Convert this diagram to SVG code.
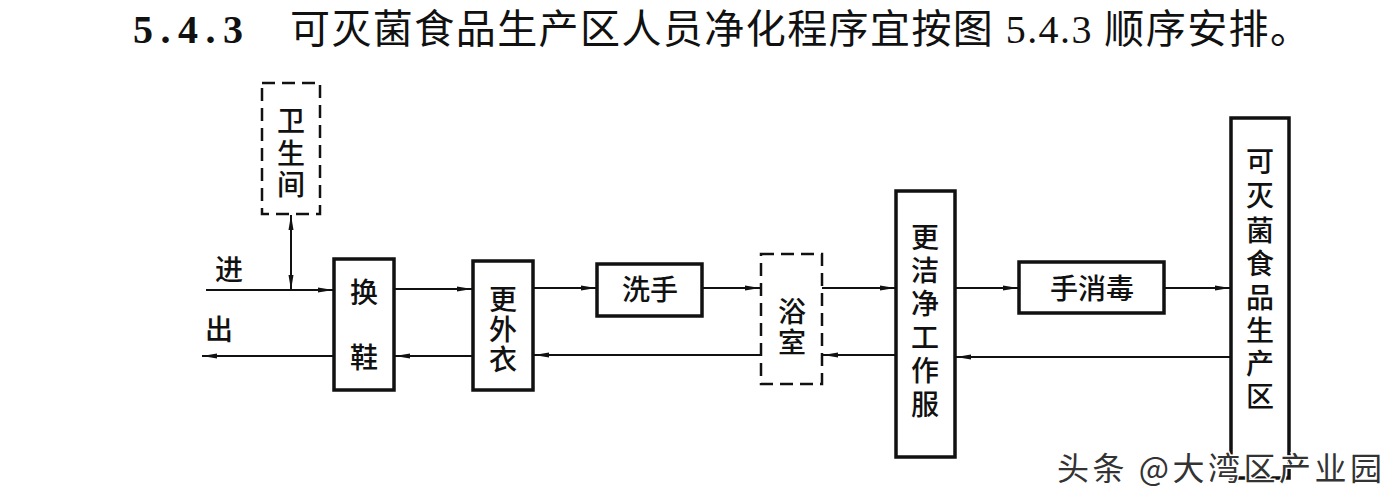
<svg xmlns="http://www.w3.org/2000/svg" width="1400" height="500" viewBox="0 0 1400 500">
<style>
.box{fill:#fff;stroke:#111;stroke-width:3.5}
.dbox{fill:#fff;stroke:#111;stroke-width:2.5;stroke-dasharray:13 7}
.t{font-family:"Liberation Serif","Noto Sans CJK SC",serif;font-size:28px;font-weight:500;fill:#111;text-anchor:middle;dominant-baseline:central}
.ln{stroke:#111;stroke-width:2;fill:none}
</style>
<defs>
<marker id="a" markerWidth="16" markerHeight="8" refX="15" refY="4" orient="auto" markerUnits="userSpaceOnUse">
<path d="M0,1.5 L15,4 L0,6.5 Z" fill="#111"/>
</marker>
<marker id="s" markerWidth="16" markerHeight="8" refX="1" refY="4" orient="auto" markerUnits="userSpaceOnUse">
<path d="M16,1.5 L1,4 L16,6.5 Z" fill="#111"/>
</marker>
</defs>
<rect width="1400" height="500" fill="#fff"/>
<text x="133" y="43" font-family="Liberation Serif,serif" font-weight="bold" font-size="40" fill="#111" textLength="110" lengthAdjust="spacing">5.4.3</text>
<text x="290" y="43" font-family="Liberation Serif,'Noto Sans CJK SC',serif" font-size="40" fill="#111" textLength="1020" lengthAdjust="spacing">可灭菌食品生产区人员净化程序宜按图 5.4.3 顺序安排。</text>

<g id="connectors">
<line class="ln" x1="206" y1="290" x2="333" y2="290" marker-end="url(#a)"/>
<line class="ln" x1="291" y1="215" x2="291" y2="290" marker-start="url(#s)" marker-end="url(#a)"/>
<line class="ln" x1="394" y1="289" x2="472" y2="289" marker-end="url(#a)"/>
<line class="ln" x1="533" y1="288" x2="596" y2="288" marker-end="url(#a)"/>
<line class="ln" x1="702" y1="288" x2="760" y2="288" marker-end="url(#a)"/>
<line class="ln" x1="822" y1="288" x2="895" y2="288" marker-end="url(#a)"/>
<line class="ln" x1="955" y1="288" x2="1018" y2="288" marker-end="url(#a)"/>
<line class="ln" x1="1164" y1="288" x2="1230" y2="288" marker-end="url(#a)"/>
<line class="ln" x1="1231" y1="357" x2="956" y2="357" marker-end="url(#a)"/>
<line class="ln" x1="896" y1="355" x2="823" y2="355" marker-end="url(#a)"/>
<line class="ln" x1="761" y1="355" x2="534" y2="355" marker-end="url(#a)"/>
<line class="ln" x1="473" y1="356" x2="395" y2="356" marker-end="url(#a)"/>
<line class="ln" x1="334" y1="356" x2="202" y2="356" marker-end="url(#a)"/>
<text class="t" x="229" y="270" font-size="26">进</text>
<text class="t" x="219" y="330" font-size="26">出</text>
</g>

<g id="n-toilet">
<rect class="dbox" x="262" y="83" width="58" height="131"/>
<text class="t" x="291" y="121">卫</text>
<text class="t" x="291" y="154">生</text>
<text class="t" x="291" y="185">间</text>
</g>
<g id="n-shoes">
<rect class="box" x="334" y="259" width="60" height="131"/>
<text class="t" x="364" y="293">换</text>
<text class="t" x="364" y="358">鞋</text>
</g>
<g id="n-coat">
<rect class="box" x="473" y="261" width="60" height="129"/>
<text class="t" x="503" y="300">更</text>
<text class="t" x="503" y="330">外</text>
<text class="t" x="503" y="360">衣</text>
</g>
<g id="n-wash">
<rect class="box" x="597" y="264" width="105" height="52"/>
<text class="t" x="650" y="290">洗手</text>
</g>
<g id="n-bath">
<rect class="dbox" x="761" y="254" width="61" height="130"/>
<text class="t" x="792" y="312">浴</text>
<text class="t" x="792" y="343">室</text>
</g>
<g id="n-clean">
<rect class="box" x="896" y="191" width="59" height="266"/>
<text class="t" x="925" y="238">更</text>
<text class="t" x="925" y="271">洁</text>
<text class="t" x="925" y="304">净</text>
<text class="t" x="925" y="338">工</text>
<text class="t" x="925" y="371">作</text>
<text class="t" x="925" y="405">服</text>
</g>
<g id="n-disinfect">
<rect class="box" x="1019" y="262" width="145" height="51"/>
<text class="t" x="1092" y="289">手消毒</text>
</g>
<g id="n-zone">
<rect class="box" x="1231" y="118" width="58" height="360"/>
<text class="t" x="1260" y="162">可</text>
<text class="t" x="1260" y="196">灭</text>
<text class="t" x="1260" y="231">菌</text>
<text class="t" x="1260" y="264">食</text>
<text class="t" x="1260" y="298">品</text>
<text class="t" x="1260" y="331">生</text>
<text class="t" x="1260" y="364">产</text>
<text class="t" x="1260" y="397">区</text>
</g>
<text x="1057" y="480" font-family="'Noto Sans CJK SC',sans-serif" font-size="32" fill="#333" stroke="#fff" stroke-width="3" paint-order="stroke" textLength="325" lengthAdjust="spacing">头条 @大湾区产业园</text>
</svg>
